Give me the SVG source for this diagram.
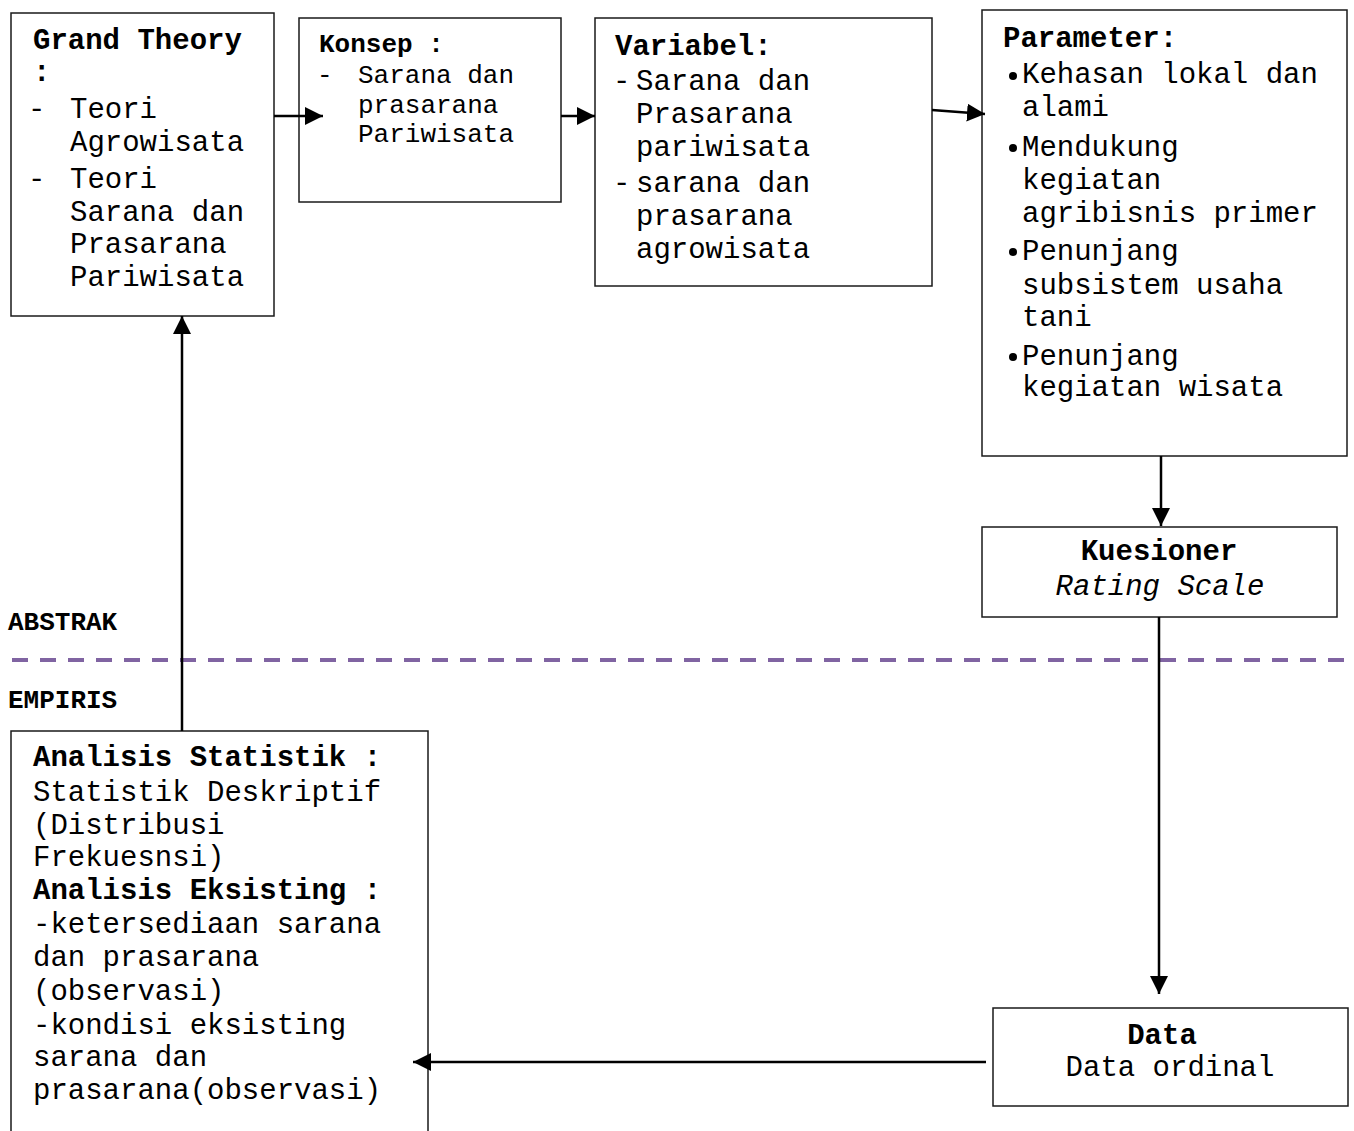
<svg xmlns="http://www.w3.org/2000/svg" width="1354" height="1131" viewBox="0 0 1354 1131">
  <style>
    .box { fill: #ffffff; stroke: #1a1a1a; stroke-width: 1.5; }
    .t { font-family: "Liberation Mono", "Courier New", monospace; font-size: 29px; fill: #000; }
    .s { font-size: 26px; }
    .b { font-weight: bold; }
    .i { font-style: italic; }
    .mid { text-anchor: middle; }
    .edge { stroke: #000; stroke-width: 2.5; fill: none; marker-end: url(#head); }
    .divider { stroke: #8064A2; stroke-width: 4; stroke-dasharray: 16 12; }
  </style>
  <defs>
    <marker id="head" markerUnits="userSpaceOnUse" markerWidth="18" markerHeight="18" viewBox="0 0 16 16" refX="16" refY="8" orient="auto">
      <path d="M0,0 L16,8 L0,16 Z" fill="#000"/>
    </marker>
  </defs>

  <rect width="1354" height="1131" fill="#ffffff"/>

  <!-- abstract / empirical boundary -->
  <g id="boundary">
    <line class="divider" x1="12" y1="660" x2="1348" y2="660"/>
    <text class="t s b" x="8" y="630">ABSTRAK</text>
    <text class="t s b" x="8" y="708">EMPIRIS</text>
  </g>

  <g id="grand-theory">
    <rect class="box" x="11" y="13" width="263" height="303"/>
    <text class="t b" x="33" y="49">Grand Theory</text>
    <text class="t b" x="33" y="81">:</text>
    <text class="t" x="28" y="118">-</text>
    <text class="t" x="70" y="118">Teori</text>
    <text class="t" x="70" y="151">Agrowisata</text>
    <text class="t" x="28" y="188">-</text>
    <text class="t" x="70" y="188">Teori</text>
    <text class="t" x="70" y="221">Sarana dan</text>
    <text class="t" x="70" y="253">Prasarana</text>
    <text class="t" x="70" y="286">Pariwisata</text>
  </g>

  <g id="konsep">
    <rect class="box" x="299" y="18" width="262" height="184"/>
    <text class="t s b" x="319" y="52">Konsep :</text>
    <text class="t s" x="317" y="83">-</text>
    <text class="t s" x="358" y="83">Sarana dan</text>
    <text class="t s" x="358" y="113">prasarana</text>
    <text class="t s" x="358" y="142">Pariwisata</text>
  </g>

  <g id="variabel">
    <rect class="box" x="595" y="18" width="337" height="268"/>
    <text class="t b" x="615" y="55">Variabel:</text>
    <text class="t" x="613" y="90">-</text>
    <text class="t" x="636" y="90">Sarana dan</text>
    <text class="t" x="636" y="123">Prasarana</text>
    <text class="t" x="636" y="156">pariwisata</text>
    <text class="t" x="613" y="192">-</text>
    <text class="t" x="636" y="192">sarana dan</text>
    <text class="t" x="636" y="225">prasarana</text>
    <text class="t" x="636" y="258">agrowisata</text>
  </g>

  <g id="parameter">
    <rect class="box" x="982" y="10" width="365" height="446"/>
    <text class="t b" x="1003" y="47">Parameter:</text>
    <circle cx="1013" cy="76" r="4"/>
    <text class="t" x="1022" y="83">Kehasan lokal dan</text>
    <text class="t" x="1022" y="116">alami</text>
    <circle cx="1013" cy="148" r="4"/>
    <text class="t" x="1022" y="156">Mendukung</text>
    <text class="t" x="1022" y="189">kegiatan</text>
    <text class="t" x="1022" y="222">agribisnis primer</text>
    <circle cx="1013" cy="252" r="4"/>
    <text class="t" x="1022" y="260">Penunjang</text>
    <text class="t" x="1022" y="294">subsistem usaha</text>
    <text class="t" x="1022" y="326">tani</text>
    <circle cx="1013" cy="357" r="4"/>
    <text class="t" x="1022" y="365">Penunjang</text>
    <text class="t" x="1022" y="396">kegiatan wisata</text>
  </g>

  <g id="kuesioner">
    <rect class="box" x="982" y="527" width="355" height="90"/>
    <text class="t b mid" x="1159" y="560">Kuesioner</text>
    <text class="t i mid" x="1160" y="595">Rating Scale</text>
  </g>

  <g id="data">
    <rect class="box" x="993" y="1008" width="355" height="98"/>
    <text class="t b mid" x="1162" y="1044">Data</text>
    <text class="t mid" x="1170" y="1076">Data ordinal</text>
  </g>

  <g id="analisis">
    <path class="box" d="M11,1135 V731 H428 V1135"/>
    <text class="t b" x="33" y="766">Analisis Statistik :</text>
    <text class="t" x="33" y="801">Statistik Deskriptif</text>
    <text class="t" x="33" y="834">(Distribusi</text>
    <text class="t" x="33" y="866">Frekuesnsi)</text>
    <text class="t b" x="33" y="899">Analisis Eksisting :</text>
    <text class="t" x="33" y="933">-ketersediaan sarana</text>
    <text class="t" x="33" y="966">dan prasarana</text>
    <text class="t" x="33" y="1000">(observasi)</text>
    <text class="t" x="33" y="1034">-kondisi eksisting</text>
    <text class="t" x="33" y="1066">sarana dan</text>
    <text class="t" x="33" y="1099">prasarana(observasi)</text>
  </g>

  <g id="connectors">
    <line class="edge" x1="274" y1="116" x2="323" y2="116"/>
    <line class="edge" x1="561" y1="116" x2="595" y2="116"/>
    <line class="edge" x1="932" y1="110" x2="985" y2="114"/>
    <line class="edge" x1="1161" y1="456" x2="1161" y2="526"/>
    <line class="edge" x1="1159" y1="617" x2="1159" y2="994"/>
    <line class="edge" x1="986" y1="1062" x2="413" y2="1062"/>
    <line class="edge" x1="182" y1="731" x2="182" y2="316"/>
  </g>
</svg>
